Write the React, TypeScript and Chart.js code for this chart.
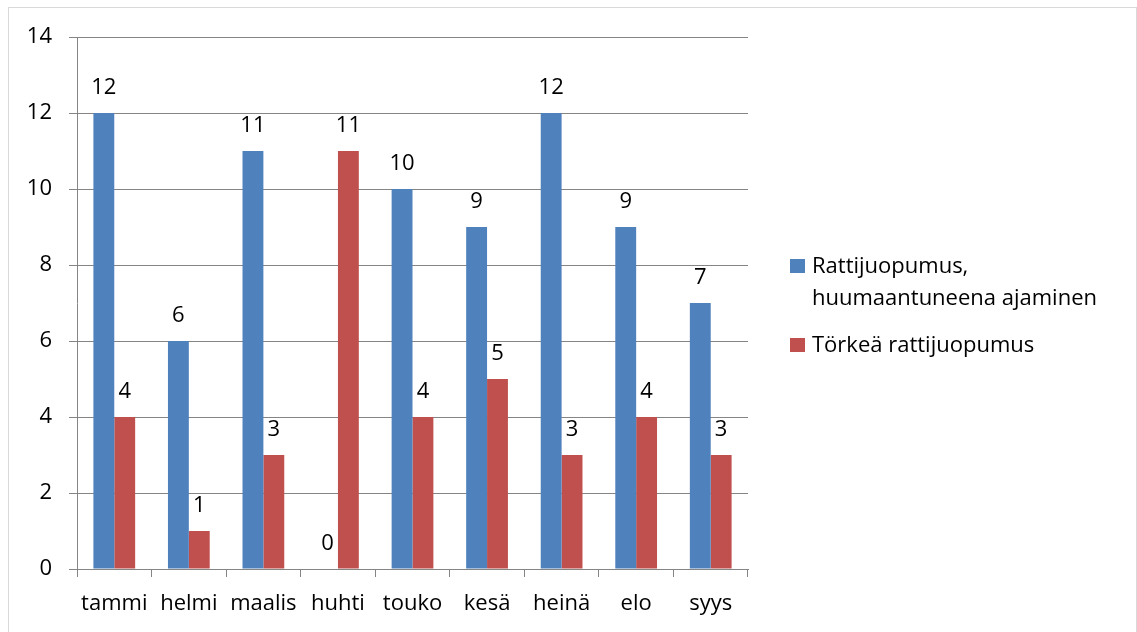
import React, { useEffect, useRef } from "react";
import { Chart, registerables } from "chart.js";

Chart.register(...registerables);

const categories = ["tammi", "helmi", "maalis", "huhti", "touko", "kesä", "heinä", "elo", "syys"];
const seriesNames = [["Rattijuopumus,", "huumaantuneena ajaminen"], ["Törkeä rattijuopumus"]];
const rattijuopumus = [12, 6, 11, 0, 10, 9, 12, 9, 7];
const torkea = [4, 1, 3, 11, 4, 5, 3, 4, 3];
const seriesColors = ["#4F81BD", "#C0504D"];
const yMin = 0;
const yMax = 14;
const yStep = 2;

const FONT = "'Open Sans', sans-serif";
const FS = 22;

const dataLabelPlugin = {
  id: "dataLabels",
  afterDatasetsDraw(chart: any) {
    const ctx = chart.ctx;
    ctx.save();
    ctx.font = `${FS}px ${FONT}`;
    ctx.fillStyle = "#000";
    ctx.textAlign = "center";
    ctx.textBaseline = "alphabetic";
    chart.data.datasets.forEach((ds: any, di: number) => {
      const meta = chart.getDatasetMeta(di);
      meta.data.forEach((el: any, i: number) => {
        ctx.fillText(String(ds.data[i]), el.x, el.y - 19);
      });
    });
    ctx.restore();
  },
};

const legendPlugin = {
  id: "sideLegend",
  afterDraw(chart: any) {
    const ctx = chart.ctx;
    ctx.save();
    ctx.font = `${FS}px ${FONT}`;
    ctx.fillStyle = "#000";
    ctx.textAlign = "left";
    ctx.textBaseline = "alphabetic";
    const x0 = 790;
    const tops = [273, 352];
    seriesNames.forEach((lines, i) => {
      const base = tops[i];
      ctx.fillStyle = seriesColors[i];
      ctx.fillRect(x0, base - 14, 15, 14);
      ctx.fillStyle = "#000";
      lines.forEach((line, j) => {
        ctx.fillText(line, x0 + 22, base + j * 32);
      });
    });
    ctx.restore();
  },
};

export default function App() {
  const ref = useRef<HTMLCanvasElement>(null);
  useEffect(() => {
    if (!ref.current) return;
    const chart = new Chart(ref.current, {
      type: "bar",
      data: {
        labels: categories,
        datasets: [
          {
            label: seriesNames[0].join(" "),
            data: rattijuopumus,
            backgroundColor: seriesColors[0],
            categoryPercentage: 0.56,
            barPercentage: 1,
          },
          {
            label: seriesNames[1].join(" "),
            data: torkea,
            backgroundColor: seriesColors[1],
            categoryPercentage: 0.56,
            barPercentage: 1,
          },
        ],
      },
      options: {
        responsive: false,
        animation: false,
        layout: { padding: { top: 37, right: 389, left: 0, bottom: 0 } },
        plugins: {
          legend: { display: false },
          tooltip: { enabled: false },
        },
        scales: {
          x: {
            grid: {
              offset: true,
              drawOnChartArea: false,
              drawTicks: true,
              tickLength: 8,
              color: "#858585",
            },
            border: { color: "#858585" },
            ticks: {
              color: "#000",
              font: { family: FONT, size: FS },
              padding: 14,
              maxRotation: 0,
            },
            afterFit: (s: any) => {
              s.height = 63;
            },
          },
          y: {
            min: yMin,
            max: yMax,
            ticks: {
              stepSize: yStep,
              color: "#000",
              font: { family: FONT, size: FS },
              padding: 17,
            },
            grid: { color: "#858585", tickLength: 8 },
            border: { color: "#858585" },
            afterFit: (s: any) => {
              s.width = 77;
            },
          },
        },
      },
      plugins: [dataLabelPlugin, legendPlugin],
    });
    return () => chart.destroy();
  }, []);
  return (
    <div style={{ position: "fixed", left: 0, top: 0, width: 1137, height: 632, overflow: "hidden", background: "#fff" }}>
      <canvas ref={ref} width={1137} height={632} style={{ position: "absolute", left: 0, top: 0, width: 1137, height: 632 }} />
      <div
        style={{
          position: "absolute",
          left: 8,
          top: 7,
          width: 1129,
          height: 700,
          boxSizing: "border-box",
          border: "1px solid #d9d9d9",
          pointerEvents: "none",
        }}
      />
    </div>
  );
}
